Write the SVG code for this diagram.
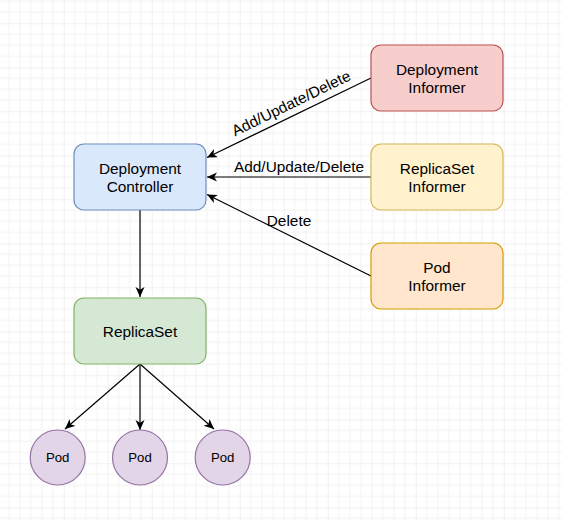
<svg xmlns="http://www.w3.org/2000/svg" width="562" height="521" viewBox="0 0 562 521">
<defs>
<pattern id="grid" patternUnits="userSpaceOnUse" x="19.7" y="23.3" width="44" height="44">
<path d="M11,0V44M22,0V44M33,0V44M0,11H44M0,22H44M0,33H44" stroke="#f2f2f2" stroke-width="1" fill="none"/>
<path d="M0,0V44M0,0H44" stroke="#e4e4e4" stroke-width="1" fill="none"/>
</pattern>
<marker id="arr" markerUnits="userSpaceOnUse" markerWidth="12" markerHeight="12" refX="10" refY="4.5" orient="auto">
<path d="M0,0 L10,4.5 L0,9 L2.8,4.5 Z" fill="#000"/>
</marker>
</defs>
<style>
.t{font-family:"Liberation Sans",Arial,sans-serif;font-size:15.4px;fill:#000;text-anchor:middle}
.s{font-family:"Liberation Sans",Arial,sans-serif;font-size:13.2px;fill:#000;text-anchor:middle}
.e{stroke:#000;stroke-width:1.2;fill:none;marker-end:url(#arr)}
</style>
<rect width="562" height="521" fill="#fff"/>
<rect width="562" height="521" fill="url(#grid)"/>
<g id="connectors">
<line class="e" x1="140" y1="210" x2="140" y2="297"/>
<line class="e" x1="371" y1="78" x2="207" y2="157.5"/>
<line class="e" x1="371" y1="177" x2="207" y2="177"/>
<line class="e" x1="371" y1="276" x2="207" y2="194.5"/>
<line class="e" x1="140" y1="364" x2="65" y2="429"/>
<line class="e" x1="140" y1="364" x2="140" y2="430"/>
<line class="e" x1="140" y1="364" x2="214" y2="429"/>
<g transform="translate(291,103) rotate(-26)"><text class="t" x="0" y="5.5">Add/Update/Delete</text></g>
<text class="t" x="299" y="172">Add/Update/Delete</text>
<text class="t" x="289" y="226">Delete</text>
</g>
<g id="deployment-controller">
<rect x="74" y="144" width="132" height="66" rx="10" fill="#dae8fc" stroke="#6c8ebf" stroke-width="1.2"/>
<text class="t" x="140" y="174">Deployment</text>
<text class="t" x="140" y="191.5">Controller</text>
</g>
<g id="deployment-informer">
<rect x="371" y="45" width="132" height="66" rx="10" fill="#f8cecc" stroke="#b85450" stroke-width="1.2"/>
<text class="t" x="437" y="75">Deployment</text>
<text class="t" x="437" y="92.5">Informer</text>
</g>
<g id="replicaset-informer">
<rect x="371" y="144" width="132" height="66" rx="10" fill="#fff2cc" stroke="#d6b656" stroke-width="1.2"/>
<text class="t" x="437" y="174">ReplicaSet</text>
<text class="t" x="437" y="191.5">Informer</text>
</g>
<g id="pod-informer">
<rect x="371" y="243" width="132" height="66" rx="10" fill="#ffe6cc" stroke="#d79b00" stroke-width="1.2"/>
<text class="t" x="437" y="273">Pod</text>
<text class="t" x="437" y="290.5">Informer</text>
</g>
<g id="replicaset">
<rect x="74" y="298" width="132" height="66" rx="10" fill="#d5e8d4" stroke="#82b366" stroke-width="1.2"/>
<text class="t" x="140" y="336.5">ReplicaSet</text>
</g>
<g id="pod-1">
<circle cx="57.7" cy="457.5" r="27.5" fill="#e1d5e7" stroke="#9673a6" stroke-width="1.2"/>
<text class="s" x="57.7" y="462.3">Pod</text>
</g>
<g id="pod-2">
<circle cx="140" cy="457.5" r="27.5" fill="#e1d5e7" stroke="#9673a6" stroke-width="1.2"/>
<text class="s" x="140" y="462.3">Pod</text>
</g>
<g id="pod-3">
<circle cx="222.7" cy="457.5" r="27.5" fill="#e1d5e7" stroke="#9673a6" stroke-width="1.2"/>
<text class="s" x="222.7" y="462.3">Pod</text>
</g>
</svg>
